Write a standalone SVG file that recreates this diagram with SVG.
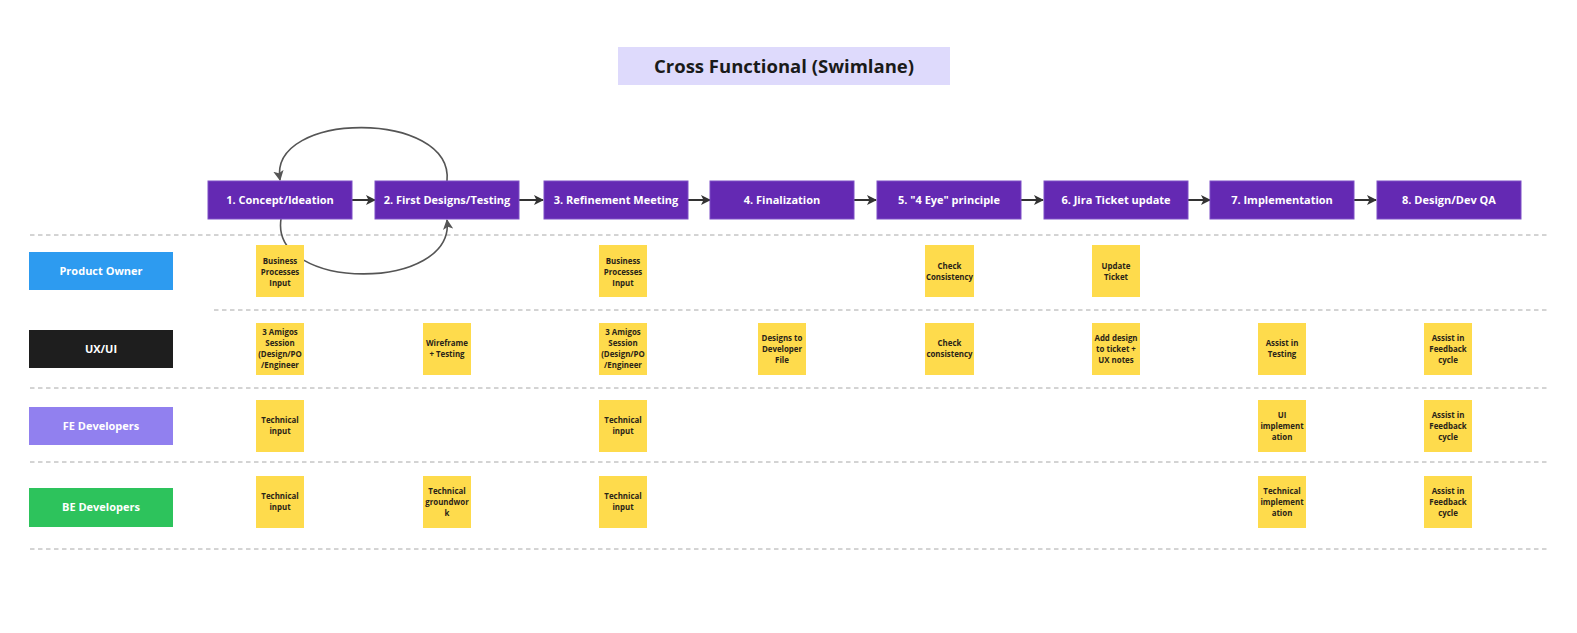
<svg xmlns="http://www.w3.org/2000/svg" width="1577" height="633" viewBox="0 0 1577 633">
  <style>
    text { font-family: "Open Sans", "Noto Sans", "Liberation Sans", sans-serif; font-weight: 700; text-anchor: middle; }
    .title-box { fill: #dedafc; }
    .title { font-size: 18.5px; fill: #1a1a1a; }
    .stage rect { fill: #6429b3; stroke: #7d4fc6; stroke-width: 1; }
    .stage text { font-size: 11px; fill: #ffffff; }
    .lane rect { stroke: none; }
    .lane text { font-size: 11px; fill: #ffffff; }
    .note rect { fill: #fedb4c; }
    .note text { font-size: 7.9px; fill: #2a2418; }
    .divider { stroke: #a8a8a8; stroke-width: 1; stroke-dasharray: 4.5 3.5; fill: none; }
    .flow { stroke: #333333; stroke-width: 2; fill: none; }
    .loop { stroke: #555555; stroke-width: 1.6; fill: none; }
  </style>
  <defs>
    <marker id="arrow" viewBox="0 0 10 10" refX="9" refY="5" markerWidth="5" markerHeight="5" orient="auto" markerUnits="strokeWidth">
      <path d="M0,0 L10,5 L0,10 L2.5,5 Z" fill="#333333"/>
    </marker>
    <marker id="arrow-loop" viewBox="0 0 10 10" refX="9" refY="5" markerWidth="6.5" markerHeight="6.5" orient="auto" markerUnits="strokeWidth">
      <path d="M0,0 L10,5 L0,10 L2.5,5 Z" fill="#555555"/>
    </marker>
  </defs>

  <rect width="1577" height="633" fill="#ffffff"/>

  <!-- heading -->
  <g id="title">
    <rect class="title-box" x="618" y="47" width="332" height="38"/>
    <text class="title" x="784" y="73">Cross Functional (Swimlane)</text>
  </g>

  <!-- lane separators -->
  <g id="dividers">
    <line class="divider" x1="30" y1="235" x2="1550" y2="235"/>
    <line class="divider" x1="214" y1="310" x2="1550" y2="310"/>
    <line class="divider" x1="30" y1="388" x2="1550" y2="388"/>
    <line class="divider" x1="30" y1="462" x2="1550" y2="462"/>
    <line class="divider" x1="30" y1="549" x2="1550" y2="549"/>
  </g>

  <!-- connectors -->
  <g id="connectors">
    <line class="flow" x1="352" y1="200" x2="375" y2="200" marker-end="url(#arrow)"/>
    <line class="flow" x1="519" y1="200" x2="543" y2="200" marker-end="url(#arrow)"/>
    <line class="flow" x1="688" y1="200" x2="710" y2="200" marker-end="url(#arrow)"/>
    <line class="flow" x1="854" y1="200" x2="876" y2="200" marker-end="url(#arrow)"/>
    <line class="flow" x1="1021" y1="200" x2="1043" y2="200" marker-end="url(#arrow)"/>
    <line class="flow" x1="1188" y1="200" x2="1210" y2="200" marker-end="url(#arrow)"/>
    <line class="flow" x1="1354" y1="200" x2="1376" y2="200" marker-end="url(#arrow)"/>
    <path class="loop" d="M447,181 C454,110 268,110 280,180" marker-end="url(#arrow-loop)"/>
    <path class="loop" d="M281,219 C270,292 456,292 447,220" marker-end="url(#arrow-loop)"/>
  </g>

  <!-- process stages -->
  <g id="stage-1" class="stage"><rect x="208" y="181" width="144" height="38"/><text x="280" y="204">1. Concept/Ideation</text></g>
  <g id="stage-2" class="stage"><rect x="375" y="181" width="144" height="38"/><text x="447" y="204">2. First Designs/Testing</text></g>
  <g id="stage-3" class="stage"><rect x="544" y="181" width="144" height="38"/><text x="616" y="204">3. Refinement Meeting</text></g>
  <g id="stage-4" class="stage"><rect x="710" y="181" width="144" height="38"/><text x="782" y="204">4. Finalization</text></g>
  <g id="stage-5" class="stage"><rect x="877" y="181" width="144" height="38"/><text x="949" y="204">5. "4 Eye" principle</text></g>
  <g id="stage-6" class="stage"><rect x="1044" y="181" width="144" height="38"/><text x="1116" y="204">6. Jira Ticket update</text></g>
  <g id="stage-7" class="stage"><rect x="1210" y="181" width="144" height="38"/><text x="1282" y="204">7. Implementation</text></g>
  <g id="stage-8" class="stage"><rect x="1377" y="181" width="144" height="38"/><text x="1449" y="204">8. Design/Dev QA</text></g>

  <!-- lane headers -->
  <g id="lane-po" class="lane"><rect x="29" y="252" width="144" height="38" fill="#2d9bf0"/><text x="101" y="275">Product Owner</text></g>
  <g id="lane-ux" class="lane"><rect x="29" y="330" width="144" height="38" fill="#1e1e1e"/><text x="101" y="353">UX/UI</text></g>
  <g id="lane-fe" class="lane"><rect x="29" y="407" width="144" height="38" fill="#9180ef"/><text x="101" y="430">FE Developers</text></g>
  <g id="lane-be" class="lane"><rect x="29" y="488" width="144" height="39" fill="#2dc35c"/><text x="101" y="511">BE Developers</text></g>

  <!-- column 1 -->
  <g id="note-c1-po" class="note"><rect x="256" y="245" width="48" height="52"/><text x="280"><tspan x="280" y="263.9">Business</tspan><tspan x="280" y="274.9">Processes</tspan><tspan x="280" y="285.9">Input</tspan></text></g>
  <g id="note-c1-ux" class="note"><rect x="256" y="323" width="48" height="52"/><text x="280"><tspan x="280" y="335.4">3 Amigos</tspan><tspan x="280" y="346.4">Session</tspan><tspan x="280" y="357.4">(Design/PO</tspan><tspan x="280" y="368.4">/Engineer</tspan></text></g>
  <g id="note-c1-fe" class="note"><rect x="256" y="400" width="48" height="52"/><text x="280"><tspan x="280" y="423.4">Technical</tspan><tspan x="280" y="434.4">input</tspan></text></g>
  <g id="note-c1-be" class="note"><rect x="256" y="476" width="48" height="52"/><text x="280"><tspan x="280" y="499.4">Technical</tspan><tspan x="280" y="510.4">input</tspan></text></g>

  <!-- column 2 -->
  <g id="note-c2-ux" class="note"><rect x="423" y="323" width="48" height="52"/><text x="447"><tspan x="447" y="346.4">Wireframe</tspan><tspan x="447" y="357.4">+ Testing</tspan></text></g>
  <g id="note-c2-be" class="note"><rect x="423" y="476" width="48" height="52"/><text x="447"><tspan x="447" y="493.9">Technical</tspan><tspan x="447" y="504.9">groundwor</tspan><tspan x="447" y="515.9">k</tspan></text></g>

  <!-- column 3 -->
  <g id="note-c3-po" class="note"><rect x="599" y="245" width="48" height="52"/><text x="623"><tspan x="623" y="263.9">Business</tspan><tspan x="623" y="274.9">Processes</tspan><tspan x="623" y="285.9">Input</tspan></text></g>
  <g id="note-c3-ux" class="note"><rect x="599" y="323" width="48" height="52"/><text x="623"><tspan x="623" y="335.4">3 Amigos</tspan><tspan x="623" y="346.4">Session</tspan><tspan x="623" y="357.4">(Design/PO</tspan><tspan x="623" y="368.4">/Engineer</tspan></text></g>
  <g id="note-c3-fe" class="note"><rect x="599" y="400" width="48" height="52"/><text x="623"><tspan x="623" y="423.4">Technical</tspan><tspan x="623" y="434.4">input</tspan></text></g>
  <g id="note-c3-be" class="note"><rect x="599" y="476" width="48" height="52"/><text x="623"><tspan x="623" y="499.4">Technical</tspan><tspan x="623" y="510.4">input</tspan></text></g>

  <!-- column 4 -->
  <g id="note-c4-ux" class="note"><rect x="758" y="323" width="48" height="52"/><text x="782"><tspan x="782" y="340.9">Designs to</tspan><tspan x="782" y="351.9">Developer</tspan><tspan x="782" y="362.9">File</tspan></text></g>

  <!-- column 5 -->
  <g id="note-c5-po" class="note"><rect x="925" y="245" width="49" height="52"/><text x="949.5"><tspan x="949.5" y="268.9">Check</tspan><tspan x="949.5" y="279.9">Consistency</tspan></text></g>
  <g id="note-c5-ux" class="note"><rect x="925" y="323" width="49" height="52"/><text x="949.5"><tspan x="949.5" y="346.4">Check</tspan><tspan x="949.5" y="357.4">consistency</tspan></text></g>

  <!-- column 6 -->
  <g id="note-c6-po" class="note"><rect x="1092" y="245" width="48" height="52"/><text x="1116"><tspan x="1116" y="268.9">Update</tspan><tspan x="1116" y="279.9">Ticket</tspan></text></g>
  <g id="note-c6-ux" class="note"><rect x="1092" y="323" width="48" height="52"/><text x="1116"><tspan x="1116" y="340.9">Add design</tspan><tspan x="1116" y="351.9">to ticket +</tspan><tspan x="1116" y="362.9">UX notes</tspan></text></g>

  <!-- column 7 -->
  <g id="note-c7-ux" class="note"><rect x="1258" y="323" width="48" height="52"/><text x="1282"><tspan x="1282" y="346.4">Assist in</tspan><tspan x="1282" y="357.4">Testing</tspan></text></g>
  <g id="note-c7-fe" class="note"><rect x="1258" y="400" width="48" height="52"/><text x="1282"><tspan x="1282" y="417.9">UI</tspan><tspan x="1282" y="428.9">implement</tspan><tspan x="1282" y="439.9">ation</tspan></text></g>
  <g id="note-c7-be" class="note"><rect x="1258" y="476" width="48" height="52"/><text x="1282"><tspan x="1282" y="493.9">Technical</tspan><tspan x="1282" y="504.9">implement</tspan><tspan x="1282" y="515.9">ation</tspan></text></g>

  <!-- column 8 -->
  <g id="note-c8-ux" class="note"><rect x="1424" y="323" width="48" height="52"/><text x="1448"><tspan x="1448" y="340.9">Assist in</tspan><tspan x="1448" y="351.9">Feedback</tspan><tspan x="1448" y="362.9">cycle</tspan></text></g>
  <g id="note-c8-fe" class="note"><rect x="1424" y="400" width="48" height="52"/><text x="1448"><tspan x="1448" y="417.9">Assist in</tspan><tspan x="1448" y="428.9">Feedback</tspan><tspan x="1448" y="439.9">cycle</tspan></text></g>
  <g id="note-c8-be" class="note"><rect x="1424" y="476" width="48" height="52"/><text x="1448"><tspan x="1448" y="493.9">Assist in</tspan><tspan x="1448" y="504.9">Feedback</tspan><tspan x="1448" y="515.9">cycle</tspan></text></g>
</svg>
